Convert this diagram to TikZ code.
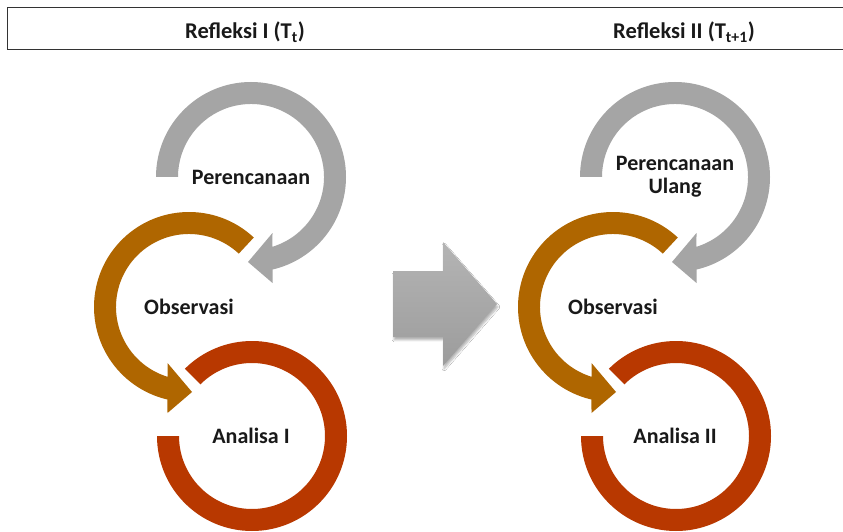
\documentclass[tikz,border=0pt]{standalone}
\usepackage{fontspec}
\setmainfont{Carlito}
\usetikzlibrary{shadows.blur}
\definecolor{cgray}{RGB}{165,165,165}
\definecolor{corange}{RGB}{175,102,0}
\definecolor{cred}{RGB}{184,56,0}
\definecolor{arrtop}{RGB}{180,180,180}
\definecolor{arrbot}{RGB}{156,156,156}
\tikzset{
  lbl/.style={font=\bfseries\fontsize{22}{23}\selectfont, text=black!90, align=center, inner sep=0pt},
  hdr/.style={font=\bfseries\fontsize{22.5}{24}\selectfont, text=black!90, anchor=base, inner sep=0pt},
}
\newcommand{\cycleset}[2]{%
  % gray arc, clockwise from left, arrowhead at bottom
  \begin{scope}[shift={(251,354)}]
    \fill[cgray] (180:95) arc[start angle=180,end angle=-76.9,radius=95]
      -- (21.5,-106) -- (-3,-85) -- (21.5,-56) -- (-72.9:73)
      arc[start angle=-72.9,end angle=180,radius=73] -- cycle;
    \node[lbl] (p#1) at (0,0) {#2};
  \end{scope}
  % orange arc, counterclockwise from top-right
  \begin{scope}[shift={(189,224)}]
    \fill[corange] (47:95) arc[start angle=47,end angle=256.9,radius=95]
      -- (-21.5,-106) -- (3,-85) -- (-21.5,-56) -- (252.9:73)
      arc[start angle=252.9,end angle=47,radius=73] -- cycle;
    \node[lbl] (o#1) at (0,0) {Observasi};
  \end{scope}
  % red ring
  \begin{scope}[shift={(252,95)}]
    \fill[cred] (180:95) arc[start angle=180,end angle=495,radius=95]
      -- (495:73) arc[start angle=495,end angle=180,radius=73] -- cycle;
  \end{scope}
}
\begin{document}
\begin{tikzpicture}[x=1pt,y=1pt]
\useasboundingbox (0,0) rectangle (843,531);
\fill[white] (0,0) rectangle (843,531);
% header
\draw[line width=1pt, black!80] (843,523.5) -- (7.5,523.5) -- (7.5,481) -- (843,481);
\node[hdr] (h1) at (245,492) {Refleksi I (T\textsubscript{t})};
\node[hdr] (h2) at (684,492) {Refleksi II (T\textsubscript{t+1})};
% left cycle
\cycleset{1}{Perencanaan}
\node[lbl] (a1) at (251,95) {Analisa I};
% right cycle
\begin{scope}[xshift=424pt]
\cycleset{2}{Perencanaan\\Ulang}
\node[lbl] (a2) at (251,95) {Analisa II};
\end{scope}
% middle arrow
\shade[top color=arrtop, bottom color=arrbot,
  blur shadow={shadow xshift=1pt, shadow yshift=-3pt, shadow blur steps=6, shadow opacity=30}]
  (393,194) -- (443,194) -- (443,165) -- (497,227) -- (443,289) -- (443,260) -- (393,260) -- cycle;
\end{tikzpicture}
\end{document}
